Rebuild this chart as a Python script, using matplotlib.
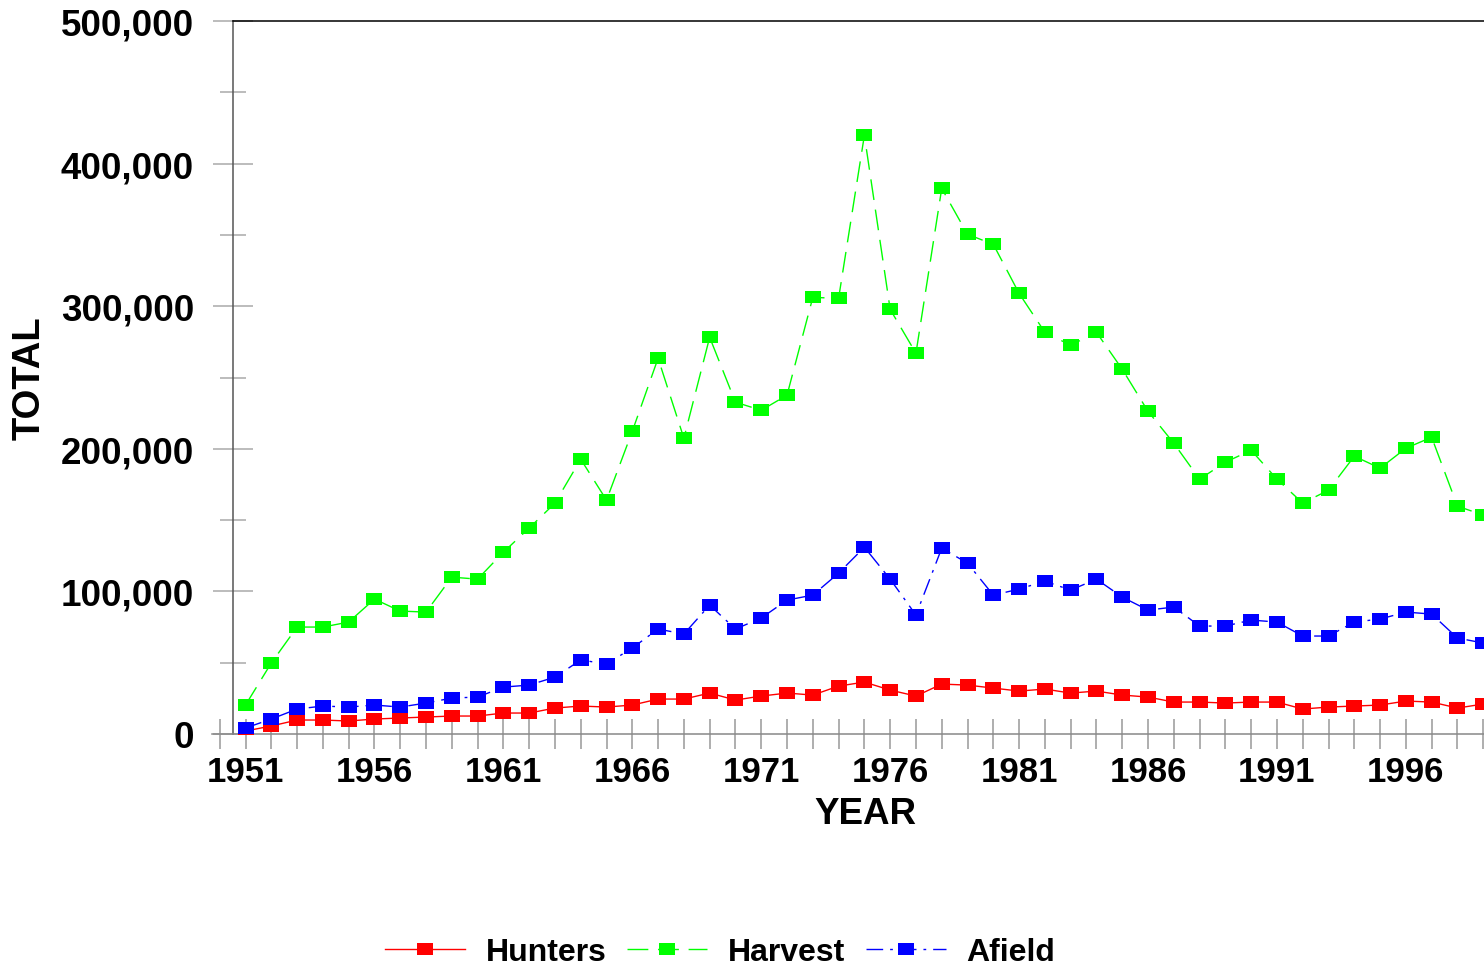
import numpy as np
import matplotlib
matplotlib.use("Agg")
import matplotlib.pyplot as plt
from matplotlib.ticker import MultipleLocator, FuncFormatter

plt.rcParams['font.family'] = ['Liberation Sans', 'DejaVu Sans']
plt.rcParams['font.weight'] = 'bold'

years = np.arange(1951, 2000)

hunters = [2100, 5600, 9800, 9800, 9100, 10500, 11200, 11900, 12600, 12600,
           14700, 14700, 18200, 19600, 18900, 20300, 24500, 24500, 28700, 23800,
           26600, 28700, 27300, 33600, 36400, 30800, 26600, 35000, 34300, 32200,
           30100, 31500, 28700, 30100, 27300, 25900, 22400, 22400, 21700, 22400,
           22400, 17500, 18900, 19600, 20300, 23100, 22400, 18200, 21000]

harvest = [20300, 49800, 75000, 75000, 78500, 94600, 86200, 85500, 110000, 108600,
           127500, 144400, 161900, 192700, 164000, 212300, 263500, 207400, 278200, 232700,
           227000, 237600, 306200, 305500, 419800, 297800, 267000, 382600, 350400, 343400,
           309000, 281700, 272600, 281700, 255800, 226300, 203900, 178700, 190600, 199000,
           178700, 161900, 171000, 194800, 186400, 200400, 208100, 159800, 153500]

afield = [4200, 10500, 17500, 19600, 18900, 20300, 18900, 21700, 25200, 25900,
          32900, 34300, 39900, 51900, 49100, 60300, 73600, 70100, 90400, 73600,
          81300, 93900, 97400, 112800, 131000, 108600, 83400, 130300, 119800, 97400,
          101600, 107200, 100900, 108600, 96000, 86900, 89000, 75700, 75700, 79900,
          78500, 68700, 68700, 78500, 80600, 85500, 84100, 67300, 63800]

series = [
    ("Hunters", hunters, "#ff0000", "-"),
    ("Harvest", harvest, "#00ff00", (0, (15, 7))),
    ("Afield", afield, "#0000ff", (0, (12, 5, 2, 5))),
]

# wide flat square marker
rect = [(-1.3, -1), (1.3, -1), (1.3, 1), (-1.3, 1), (-1.3, -1)]

fig = plt.figure(figsize=(14.84, 9.70), dpi=100)
ax = fig.add_axes([212 / 1484, 1 - 735 / 970, 1 - 212 / 1484, (735 - 22) / 970])

handles = []
for name, vals, col, ls in series:
    ln, = ax.plot(years, vals, color=col, linestyle=ls, linewidth=1.0,
                  marker=rect, markersize=11, markeredgewidth=0,
                  markerfacecolor=col, zorder=3)
    handles.append(ln)

ax.set_xlim(1949.7, 1999.03)
ax.set_ylim(0, 500000)

for s in ['top', 'right']:
    ax.spines[s].set_visible(False)
ax.spines['left'].set_position(('data', 1950.53))
ax.spines['left'].set_color('#555555')
ax.spines['bottom'].set_color('#888888')
ax.spines['left'].set_linewidth(1.1)
ax.spines['bottom'].set_linewidth(1.1)
ax.plot([1950.53, 1999.03], [500000, 500000], color='black', lw=1.1,
        clip_on=False, zorder=4)

ax.set_xticks(np.arange(1951, 2000, 5))
ax.xaxis.set_minor_locator(MultipleLocator(1))
ax.yaxis.set_major_locator(MultipleLocator(100000))
ax.yaxis.set_minor_locator(MultipleLocator(50000))
ax.yaxis.set_major_formatter(FuncFormatter(lambda v, p: f"{int(v):,}"))

ax.tick_params(axis='x', which='both', direction='inout', length=21.6,
               color='#999999', width=1.1, pad=4, labelsize=25)
ax.tick_params(axis='y', which='major', direction='inout', length=28.8,
               color='#aaaaaa', width=1.1, pad=14, labelsize=26.5)
ax.tick_params(axis='y', which='minor', direction='inout', length=18.7,
               color='#aaaaaa', width=1.1)
for lab in ax.get_xticklabels() + ax.get_yticklabels():
    lab.set_fontweight('bold')

fig.text(865 / 1484, 1 - 815 / 970, "YEAR", ha='center', va='center',
         fontsize=26.5, fontweight='bold')
fig.text(30 / 1484, 1 - 378 / 970, "TOTAL", ha='center', va='center',
         rotation=90, fontsize=27.5, fontweight='bold')

fig.legend(handles, [s[0] for s in series], loc='center',
           bbox_to_anchor=(720 / 1484, 1 - 953 / 970), ncol=3,
           frameon=False, handlelength=2.5, handletextpad=0.65,
           columnspacing=0.65, prop={'size': 23, 'weight': 'bold'})

fig.savefig("out.png", dpi=100)
